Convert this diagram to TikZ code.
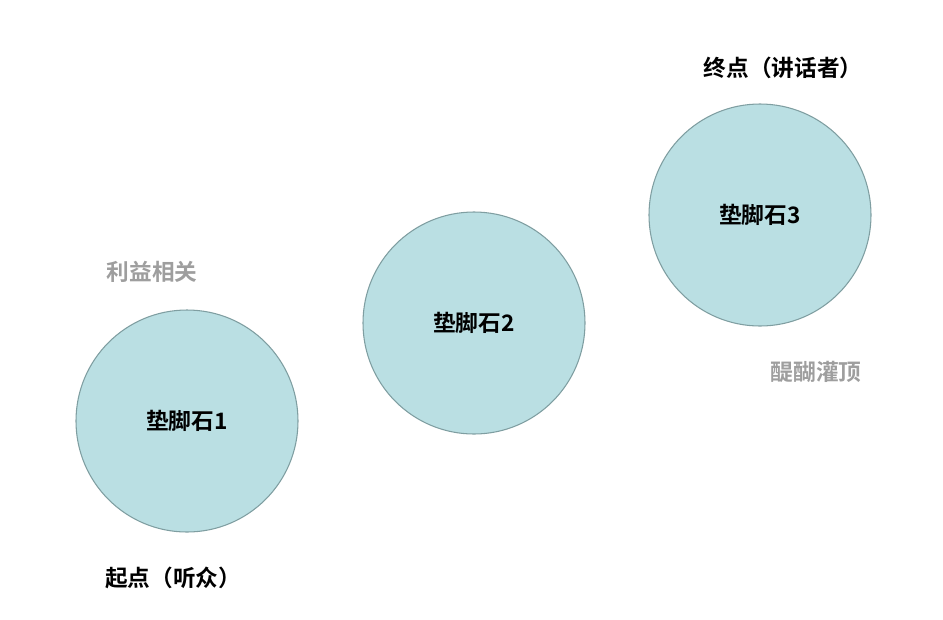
\documentclass[tikz,border=0pt]{standalone}
\usepackage{fontspec}
\newfontfamily\cjk{Noto Sans CJK SC}[BoldFont={Noto Sans CJK SC Bold}]
\definecolor{cfill}{HTML}{BADFE3}
\definecolor{cdraw}{HTML}{7F9EA1}
\definecolor{lgray}{HTML}{9E9E9E}
\begin{document}
\begin{tikzpicture}[x=0.75pt,y=-0.75pt,
  stone/.style={circle,fill=cfill,draw=cdraw,line width=0.8pt,minimum size=222*0.75pt,inner sep=0pt,font=\cjk\bfseries\fontsize{17}{20}\selectfont},
  lab/.style={font=\cjk\bfseries\fontsize{17}{20}\selectfont},
  glab/.style={lab,text=lgray}]
\useasboundingbox (0,0) rectangle (943,619);
\node[stone] (s1) at (187,421) {垫脚石1};
\node[stone] (s2) at (474,323) {垫脚石2};
\node[stone] (s3) at (760,215) {垫脚石3};
\node[lab] (end) at (783,68) {终点（讲话者）};
\node[lab] (start) at (173,578) {起点（听众）};
\node[glab] (g1) at (152,272) {利益相关};
\node[glab] (g2) at (816,372) {醍醐灌顶};
\end{tikzpicture}
\end{document}
